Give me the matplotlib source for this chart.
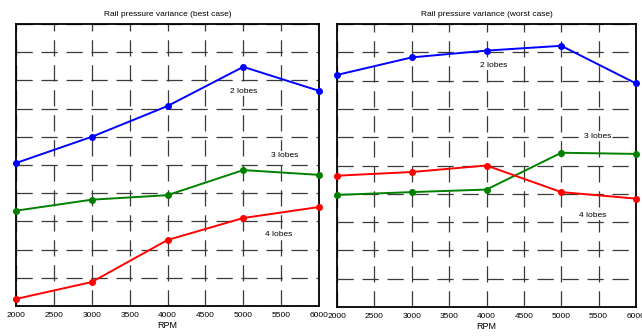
import matplotlib
matplotlib.use("Agg")
import matplotlib.pyplot as plt

plt.rcParams["font.family"] = ["Liberation Sans", "DejaVu Sans"]

rpm = [2000, 3000, 4000, 5000, 6000]
xticks = [2000, 2500, 3000, 3500, 4000, 4500, 5000, 5500, 6000]

# best case
best_2 = [5.07, 6.0, 7.09, 8.48, 7.63]
best_3 = [3.38, 3.77, 3.93, 4.82, 4.65]
best_4 = [0.25, 0.85, 2.34, 3.12, 3.51]

# worst case
worst_2 = [8.2, 8.82, 9.06, 9.23, 7.9]
worst_3 = [3.96, 4.06, 4.15, 5.45, 5.41]
worst_4 = [4.64, 4.77, 5.0, 4.06, 3.83]

titles = ["Rail pressure variance (best case)", "Rail pressure variance (worst case)"]
label_pos = [
    [(5010, 7.62), (5550, 5.32), (5470, 2.55)],
    [(4090, 8.55), (5480, 6.04), (5420, 3.25)],
]

fig = plt.figure(figsize=(6.42, 3.36), dpi=100)
ax1 = fig.add_axes([16 / 642, 30 / 336, 303 / 642, 282 / 336])
ax2 = fig.add_axes([337 / 642, 29 / 336, 299 / 642, 283 / 336])

series = [(best_2, best_3, best_4), (worst_2, worst_3, worst_4)]
colors = ["#0000ff", "#008000", "#ff0000"]
names = ["2 lobes", "3 lobes", "4 lobes"]

for ax, data, title, lpos in zip([ax1, ax2], series, titles, label_pos):
    for vals, c in zip(data, colors):
        ax.plot(rpm, vals, color=c, lw=1.4, marker="o", ms=4, zorder=3, clip_on=False)
    for (lx, ly), name in zip(lpos, names):
        ax.text(lx, ly, name, fontsize=6, ha="center", va="center", zorder=2,
                bbox=dict(facecolor="white", edgecolor="none", pad=1.0))
    ax.set_xlim(2000, 6000)
    ax.set_ylim(0, 10)
    ax.set_xticks(xticks)
    ax.set_yticks(range(11))
    ax.set_yticklabels([])
    ax.tick_params(length=0, labelsize=6, pad=4)
    ax.grid(True, color="#3a3a3a", ls=(0, (13, 7)), lw=0.9)
    for s in ax.spines.values():
        s.set_linewidth(1.3)
    ax.set_title(title, fontsize=6, pad=6)
    ax.set_xlabel("RPM", fontsize=6.5, labelpad=2)

fig.savefig("out.png", dpi=100)
